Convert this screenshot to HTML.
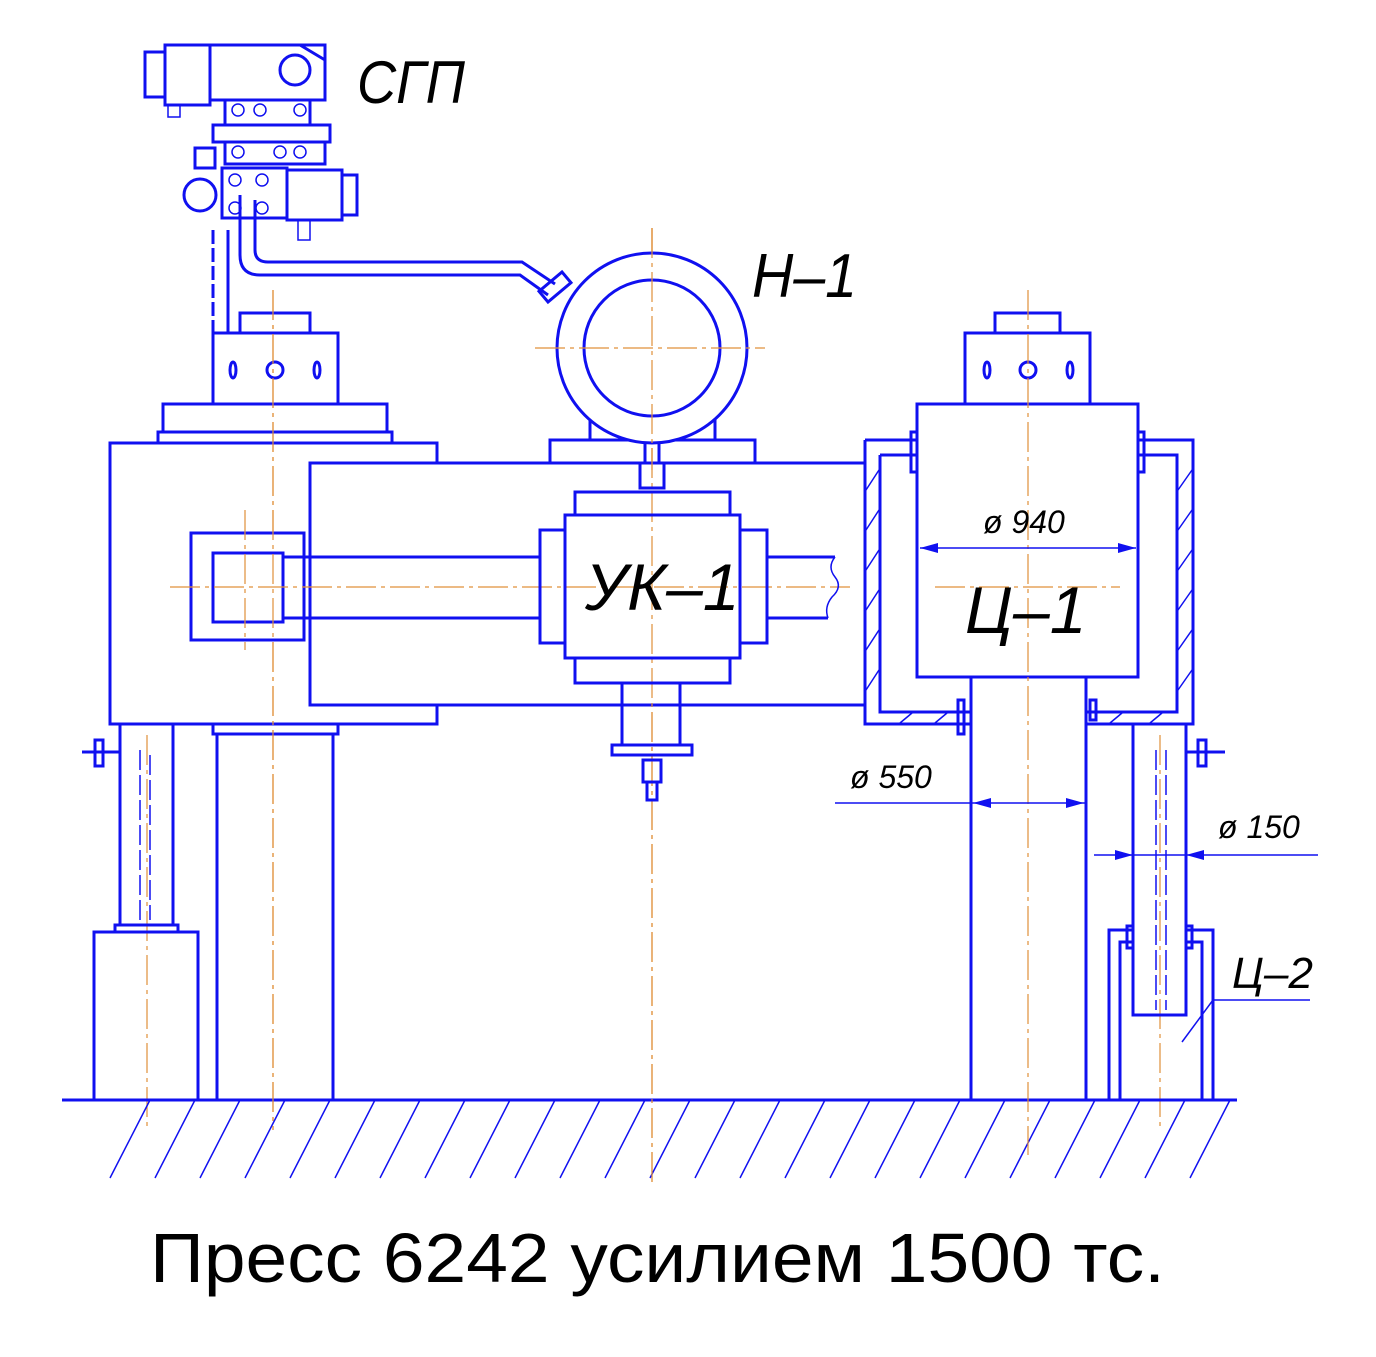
<!DOCTYPE html>
<html><head><meta charset="utf-8"><style>
html,body{margin:0;padding:0;background:#fff}
svg{display:block}
.b{fill:none;stroke:#1010f0;stroke-width:3}
.t{fill:none;stroke:#1010f0;stroke-width:1.5}
.c{stroke:#e0903a;stroke-width:1.2;stroke-dasharray:30 5 4 5;fill:none}
.h{stroke:#1010f0;stroke-width:1.5}
.lbl{font-family:"Liberation Sans",sans-serif;font-style:italic;fill:#000}
</style></head><body>
<svg width="1376" height="1357" viewBox="0 0 1376 1357">
<!-- center lines -->
<line class="c" x1="273" y1="290" x2="273" y2="1130"/>
<line class="c" x1="652" y1="228" x2="652" y2="1185"/>
<line class="c" x1="147" y1="735" x2="147" y2="1130"/>
<line class="c" x1="1160" y1="735" x2="1160" y2="1130"/>

<!-- ground -->
<line class="b" x1="62" y1="1100" x2="1237" y2="1100"/>
<g class="h">
<line x1="110" y1="1178" x2="150" y2="1100"/>
<line x1="155" y1="1178" x2="195" y2="1100"/>
<line x1="200" y1="1178" x2="240" y2="1100"/>
<line x1="245" y1="1178" x2="285" y2="1100"/>
<line x1="290" y1="1178" x2="330" y2="1100"/>
<line x1="335" y1="1178" x2="375" y2="1100"/>
<line x1="380" y1="1178" x2="420" y2="1100"/>
<line x1="425" y1="1178" x2="465" y2="1100"/>
<line x1="470" y1="1178" x2="510" y2="1100"/>
<line x1="515" y1="1178" x2="555" y2="1100"/>
<line x1="560" y1="1178" x2="600" y2="1100"/>
<line x1="605" y1="1178" x2="645" y2="1100"/>
<line x1="650" y1="1178" x2="690" y2="1100"/>
<line x1="695" y1="1178" x2="735" y2="1100"/>
<line x1="740" y1="1178" x2="780" y2="1100"/>
<line x1="785" y1="1178" x2="825" y2="1100"/>
<line x1="830" y1="1178" x2="870" y2="1100"/>
<line x1="875" y1="1178" x2="915" y2="1100"/>
<line x1="920" y1="1178" x2="960" y2="1100"/>
<line x1="965" y1="1178" x2="1005" y2="1100"/>
<line x1="1010" y1="1178" x2="1050" y2="1100"/>
<line x1="1055" y1="1178" x2="1095" y2="1100"/>
<line x1="1100" y1="1178" x2="1140" y2="1100"/>
<line x1="1145" y1="1178" x2="1185" y2="1100"/>
<line x1="1190" y1="1178" x2="1230" y2="1100"/>
</g>

<!-- left frame -->
<rect class="b" x="110" y="443" width="327" height="281"/>
<rect class="b" x="158" y="432" width="234" height="11"/>
<rect class="b" x="163" y="404" width="224" height="28"/>
<rect class="b" x="213" y="333" width="125" height="71"/>
<rect class="b" x="240" y="313" width="70" height="20"/>
<circle class="b" cx="275" cy="370" r="8"/>
<ellipse class="b" cx="233" cy="370" rx="3" ry="8"/>
<ellipse class="b" cx="317" cy="370" rx="3" ry="8"/>
<!-- left column -->
<rect class="b" x="213" y="724" width="125" height="10"/>
<rect class="b" x="217" y="734" width="116" height="366"/>
<!-- left small cylinder -->
<rect class="b" x="120" y="724" width="53" height="201"/>
<rect class="b" x="115" y="925" width="63" height="7"/>
<rect class="b" x="94" y="932" width="104" height="168"/>
<line class="t" x1="140" y1="750" x2="140" y2="920" stroke-dasharray="20 5"/>
<line class="t" x1="150" y1="755" x2="150" y2="920" stroke-dasharray="20 5"/>
<line class="b" x1="82" y1="752" x2="120" y2="752"/>
<rect class="b" x="95" y="740" width="8" height="26"/>

<!-- beam -->
<rect class="b" x="310" y="463" width="555" height="242" style="fill:#fff"/>
<rect class="b" x="191" y="533" width="113" height="107" style="fill:#fff"/>
<rect class="b" x="213" y="553" width="70" height="69"/>
<line class="b" x1="283" y1="557" x2="540" y2="557"/>
<line class="b" x1="283" y1="618" x2="540" y2="618"/>
<line class="c" x1="273" y1="290" x2="273" y2="1130"/>
<line class="c" x1="652" y1="228" x2="652" y2="1185"/>
<line class="c" x1="170" y1="587" x2="850" y2="587"/>
<line class="c" x1="245" y1="510" x2="245" y2="650"/>
<!-- UK-1 -->
<rect class="b" x="575" y="492" width="155" height="23"/>
<rect class="b" x="565" y="515" width="175" height="143"/>
<rect class="b" x="540" y="530" width="25" height="113"/>
<rect class="b" x="740" y="530" width="27" height="113"/>
<path class="b" d="M767 557 H835 M767 618 H828"/>
<path class="t" d="M835 557 q-8 10 0 20 q8 10 -3 20 q-8 10 -4 21"/>
<rect class="b" x="575" y="658" width="155" height="25"/>
<rect class="b" x="622" y="683" width="58" height="62"/>
<rect class="b" x="612" y="745" width="80" height="10"/>
<rect class="b" x="643" y="760" width="18" height="22"/>
<rect class="b" x="647" y="782" width="10" height="18"/>
<rect class="b" x="640" y="463" width="24" height="25"/>
<line class="b" x1="645" y1="443" x2="645" y2="463"/><line class="b" x1="659" y1="443" x2="659" y2="463"/>

<!-- pump H-1 -->
<rect class="b" x="550" y="440" width="205" height="23"/>
<path class="b" d="M590 440 V420 H715 V440"/>
<circle class="b" cx="652" cy="348" r="95" style="fill:#fff"/>
<circle class="b" cx="652" cy="348" r="68"/>
<line class="c" x1="535" y1="348" x2="765" y2="348"/>
<line class="c" x1="652" y1="228" x2="652" y2="470"/>
<!-- pipe -->
<path class="b" d="M240 195 V255 Q240 275 260 275 H520 L548 295"/>
<path class="b" d="M255 200 V250 Q255 262 268 262 H522 L555 284"/>
<rect class="b" x="540" y="280" width="30" height="14" transform="rotate(-40 555 287)"/>
<line class="b" x1="213" y1="230" x2="213" y2="333" stroke-dasharray="14 4"/>
<line class="b" x1="228" y1="230" x2="228" y2="333"/>

<!-- SGP valve block -->
<rect class="b" x="165" y="45" width="45" height="60"/>
<rect class="b" x="210" y="45" width="115" height="55"/>
<circle class="b" cx="295" cy="70" r="15"/>
<path class="b" d="M300 45 L325 60"/>
<rect class="b" x="145" y="52" width="20" height="45"/>
<rect class="b" x="225" y="100" width="85" height="25"/>
<rect class="b" x="213" y="125" width="117" height="17"/>
<rect class="b" x="225" y="142" width="100" height="22"/>
<rect class="b" x="195" y="148" width="20" height="20"/>
<rect class="b" x="222" y="168" width="65" height="50"/>
<rect class="b" x="287" y="170" width="55" height="50"/>
<rect class="b" x="342" y="175" width="15" height="40"/>
<circle class="b" cx="200" cy="195" r="16"/>
<g class="t">
<circle cx="238" cy="110" r="6"/><circle cx="260" cy="110" r="6"/><circle cx="300" cy="110" r="6"/>
<circle cx="238" cy="152" r="6"/><circle cx="280" cy="152" r="6"/><circle cx="300" cy="152" r="6"/>
<circle cx="235" cy="180" r="6"/><circle cx="262" cy="180" r="6"/><circle cx="235" cy="208" r="6"/><circle cx="262" cy="208" r="6"/>
<rect x="298" y="220" width="12" height="20"/><rect x="168" y="105" width="12" height="12"/>
</g>

<!-- C-1 -->
<path class="b" d="M865 440 H917 M1138 440 H1193 V724 H1086 M971 724 H865 V440"/>
<path class="b" d="M880 455 H917 M1138 455 H1177 V712 H1086 M971 712 H880 V455"/>
<g class="t">
<line x1="866" y1="490" x2="879" y2="470"/><line x1="866" y1="530" x2="879" y2="510"/><line x1="866" y1="570" x2="879" y2="550"/><line x1="866" y1="610" x2="879" y2="590"/><line x1="866" y1="650" x2="879" y2="630"/><line x1="866" y1="690" x2="879" y2="670"/>
<line x1="1178" y1="490" x2="1192" y2="470"/><line x1="1178" y1="530" x2="1192" y2="510"/><line x1="1178" y1="570" x2="1192" y2="550"/><line x1="1178" y1="610" x2="1192" y2="590"/><line x1="1178" y1="650" x2="1192" y2="630"/><line x1="1178" y1="690" x2="1192" y2="670"/>
<line x1="900" y1="723" x2="912" y2="713"/><line x1="935" y1="723" x2="947" y2="713"/><line x1="1110" y1="723" x2="1122" y2="713"/><line x1="1150" y1="723" x2="1162" y2="713"/>
</g>
<rect class="b" x="911" y="432" width="6" height="40"/><rect class="b" x="1138" y="432" width="6" height="40"/>
<rect class="b" x="958" y="700" width="6" height="34"/><rect class="b" x="1090" y="700" width="6" height="20"/>
<rect class="b" x="917" y="404" width="221" height="273" style="fill:#fff"/>
<rect class="b" x="965" y="333" width="125" height="71"/>
<rect class="b" x="995" y="313" width="65" height="20"/>
<circle class="b" cx="1028" cy="370" r="8"/>
<ellipse class="b" cx="987" cy="370" rx="3" ry="8"/>
<ellipse class="b" cx="1070" cy="370" rx="3" ry="8"/>
<rect class="b" x="971" y="677" width="115" height="423"/>
<line class="c" x1="1028" y1="290" x2="1028" y2="1155"/>
<line class="c" x1="935" y1="587" x2="1120" y2="587"/>

<!-- C-2 -->
<rect class="b" x="1133" y="724" width="53" height="291"/>
<line class="t" x1="1156" y1="750" x2="1156" y2="1010" stroke-dasharray="20 5"/>
<line class="t" x1="1166" y1="750" x2="1166" y2="1010" stroke-dasharray="20 5"/>
<line class="b" x1="1186" y1="752" x2="1225" y2="752"/>
<rect class="b" x="1198" y="740" width="8" height="26"/>
<path class="b" d="M1133 930 H1109 V1100 M1186 930 H1213 V1100"/>
<path class="b" d="M1133 942 H1120 V1100 M1186 942 H1202 V1100"/>
<rect class="b" x="1127" y="926" width="6" height="22"/><rect class="b" x="1186" y="926" width="6" height="22"/>
<line class="t" x1="1182" y1="1042" x2="1213" y2="1000"/>
<line class="t" x1="1213" y1="1000" x2="1310" y2="1000"/>

<!-- dimensions -->
<line class="t" x1="920" y1="548" x2="1136" y2="548"/>
<path d="M920 548 l18 -5 v10z M1136 548 l-18 -5 v10z" fill="#1010f0"/>
<line class="t" x1="835" y1="803" x2="1086" y2="803"/>
<path d="M973 803 l18 -5 v10z M1084 803 l-18 -5 v10z" fill="#1010f0"/>
<line class="t" x1="1094" y1="855" x2="1318" y2="855"/>
<path d="M1133 855 l-18 -5 v10z M1186 855 l18 -5 v10z" fill="#1010f0"/>

<!-- labels -->
<text class="lbl" x="357" y="103" font-size="60" textLength="108" lengthAdjust="spacingAndGlyphs">СГП</text>
<text class="lbl" x="752" y="297" font-size="62" textLength="105" lengthAdjust="spacingAndGlyphs">Н–1</text>
<text class="lbl" x="585" y="610" font-size="66">УК–1</text>
<text class="lbl" x="965" y="633" font-size="66">Ц–1</text>
<text class="lbl" x="983" y="533" font-size="32">ø 940</text>
<text class="lbl" x="850" y="788" font-size="32">ø 550</text>
<text class="lbl" x="1218" y="838" font-size="32">ø 150</text>
<text class="lbl" x="1232" y="988" font-size="44">Ц–2</text>
<text x="150" y="1282" font-size="70" textLength="1015" lengthAdjust="spacingAndGlyphs" font-family="Liberation Sans, sans-serif" fill="#000">Пресс 6242 усилием 1500 тс.</text>
</svg>
</body></html>
